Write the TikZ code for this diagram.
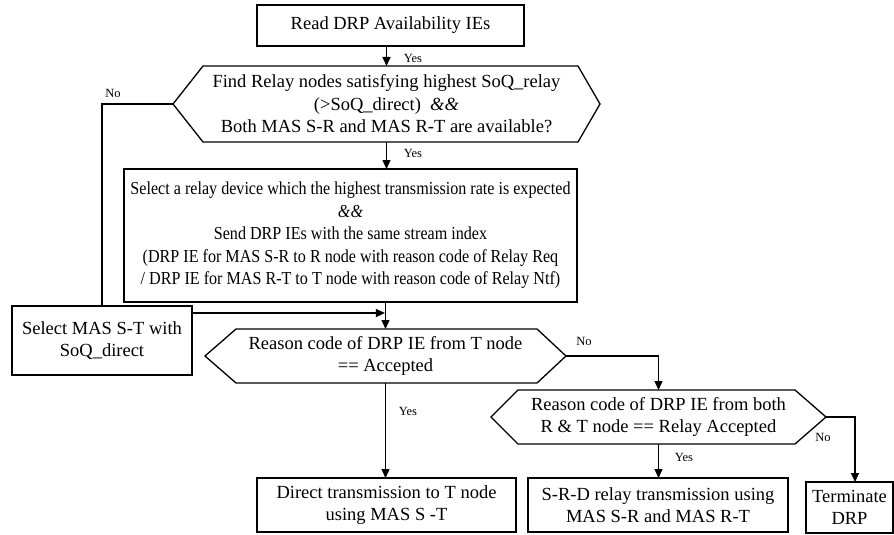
\documentclass[tikz,border=0pt]{standalone}
\usepackage{fontspec}
\setmainfont{Liberation Serif}
\newfontfamily\narrowserif[FakeStretch=0.88]{Liberation Serif}
\usetikzlibrary{arrows.meta,calc}
\tikzset{
  x=1pt,y=-1pt,
  base/.style={inner sep=0pt,outer sep=0pt,align=center,font=\fontsize{18.5}{22.5}\selectfont},
  box/.style={base,draw,line width=1.3pt},
  hexnode/.style={base},
  lbl/.style={inner sep=0pt,font=\fontsize{12.5}{13}\selectfont},
  conn/.style={line width=1.3pt},
  arr/.style={conn,-{Triangle[length=9pt,width=8pt]}},
  hexline/.style={line width=1.3pt}
}
\newcommand{\myhex}[3]{%
  \draw[hexline] (#1.west) -- ($(#1.north west)+(#2,0)$) -- ($(#1.north east)+(-#3,0)$) -- (#1.east)
    -- ($(#1.south east)+(-#3,0)$) -- ($(#1.south west)+(#2,0)$) -- cycle;}
\begin{document}
\begin{tikzpicture}
\useasboundingbox (0,0) rectangle (894,535);
% nodes
\node[box,minimum width=267,minimum height=41] (b1) at (390.5,25.5) {Read DRP Availability IEs};
\node[hexnode,minimum width=427,minimum height=76] (h1) at (386.5,104)
  {Find Relay nodes satisfying highest SoQ\_relay\\(>SoQ\_direct) \ \textit{\&\&}\\Both MAS S-R and MAS R-T are available?};
\node[box,minimum width=453,minimum height=133,font=\narrowserif\fontsize{18.3}{22.5}\selectfont] (b2) at (350.5,235.5)
  {Select a relay device which the highest transmission rate is expected\\\textit{\&\&}\\Send DRP IEs with the same stream index\\(DRP IE for MAS S-R to R node with reason code of Relay Req\\/ DRP IE for MAS R-T to T node with reason code of Relay Ntf)};
\node[box,minimum width=180,minimum height=69] (sel) at (102,340.5) {Select MAS S-T with\\SoQ\_direct};
\node[hexnode,minimum width=361,minimum height=54] (h2) at (385.5,356) {Reason code of DRP IE from T node\\== Accepted};
\node[hexnode,minimum width=335,minimum height=54] (h3) at (658.5,417) {Reason code of DRP IE from both\\R \& T node == Relay Accepted};
\node[box,minimum width=259,minimum height=54] (dir) at (386.5,505) {Direct transmission to T node\\using MAS S -T};
\node[box,minimum width=260,minimum height=54] (srd) at (658,505) {S-R-D relay transmission using\\MAS S-R and MAS R-T};
\node[box,minimum width=87,minimum height=51] (term) at (849.5,507.5) {Terminate\\DRP};
% hexagon outlines
\myhex{h1}{30}{22}
\myhex{h2}{31}{29}
\myhex{h3}{27}{31}
% connectors
\draw[arr] (h1.north |- b1.south) -- (h1.north);
\draw[arr] (h1.south) -- (h1.south |- b2.north);
\draw[conn] (h1.west) -| (sel.north);
\coordinate (selout) at ($(sel.north east)+(0,7)$);
\draw[arr] (selout) -- ($(h2.north |- selout)+(-0.6,0)$);
\draw[arr] (h2.north |- b2.south) -- (h2.north);
\draw[arr] (h2.south) -- (h2.south |- dir.north);
\draw[arr] (h2.east) -| (h3.north);
\draw[arr] (h3.south) -- (h3.south |- srd.north);
\draw[arr] (h3.east) -| ([xshift=5.5pt]term.north);
% labels
\node[lbl] (y1) at (413,58) {Yes};
\node[lbl] (y2) at (413,153) {Yes};
\node[lbl] (y3) at (408,411) {Yes};
\node[lbl] (y4) at (684,457) {Yes};
\node[lbl] (n1) at (113,93) {No};
\node[lbl] (n2) at (584,341) {No};
\node[lbl] (n3) at (823,437) {No};
\end{tikzpicture}
\end{document}
